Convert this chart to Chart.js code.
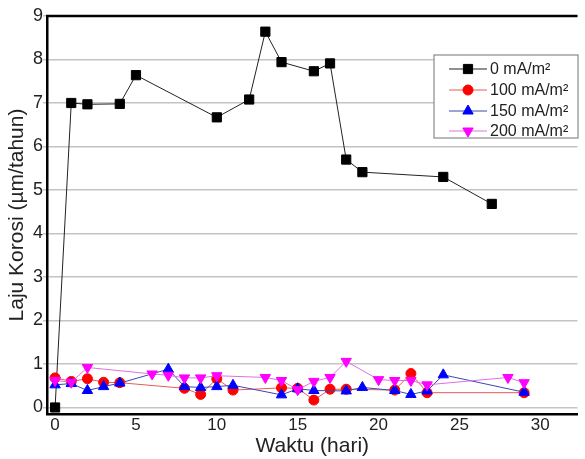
<!DOCTYPE html>
<html>
<head>
<meta charset="utf-8">
<script src="https://cdn.jsdelivr.net/npm/chart.js@4"></script>
<style>
  html, body { margin: 0; padding: 0; background: #fff; }
  #wrap { width: 585px; height: 459px; }
</style>
</head>
<body>
<div id="wrap"><canvas id="chart" width="585" height="459"></canvas></div>
<script>
// Laju korosi vs waktu, four current densities
const seriesLabels = ['0 mA/m²', '100 mA/m²', '150 mA/m²', '200 mA/m²'];

const days0 = [0, 1, 2, 4, 5, 10, 12, 13, 14, 16, 17, 18, 19, 24, 27];
const rate0 = [0, 7.0, 6.97, 6.98, 7.64, 6.67, 7.08, 8.64, 7.94, 7.73, 7.91, 5.70, 5.41, 5.30, 4.68];

const days100 = [0, 1, 2, 3, 4, 8, 9, 10, 11, 14, 15, 16, 17, 18, 21, 22, 23, 29];
const rate100 = [0.68, 0.60, 0.66, 0.58, 0.57, 0.44, 0.30, 0.66, 0.40, 0.45, 0.44, 0.17, 0.42, 0.42, 0.40, 0.78, 0.34, 0.34];

const days150 = [0, 1, 2, 3, 4, 7, 8, 9, 10, 11, 14, 15, 16, 18, 19, 21, 22, 23, 24, 29];
const rate150 = [0.52, 0.55, 0.39, 0.48, 0.56, 0.88, 0.48, 0.46, 0.48, 0.51, 0.29, 0.43, 0.39, 0.38, 0.46, 0.39, 0.30, 0.38, 0.75, 0.35];

const days200 = [0, 1, 2, 6, 7, 8, 9, 10, 13, 14, 15, 16, 17, 18, 20, 21, 22, 23, 28, 29];
const rate200 = [0.62, 0.58, 0.92, 0.77, 0.74, 0.68, 0.68, 0.73, 0.69, 0.62, 0.41, 0.60, 0.69, 1.06, 0.64, 0.62, 0.62, 0.52, 0.69, 0.57];

const xTicks = [0, 5, 10, 15, 20, 25, 30];
const yTicks = [0, 1, 2, 3, 4, 5, 6, 7, 8, 9];

const FONT = 'Liberation Sans, Arial, sans-serif';

function toPoints(xs, ys) {
  return xs.map((x, i) => ({ x: x, y: ys[i] }));
}

const styles = [
  { line: '#222', fill: '#000', point: 'rect', radius: 6.5, rotation: 0 },
  { line: '#e85a5a', fill: '#ff0000', point: 'circle', radius: 5, rotation: 0 },
  { line: '#3a48b0', fill: '#0000ff', point: 'triangle', radius: 6, rotation: 0 },
  { line: '#e070e0', fill: '#ff00ff', point: 'triangle', radius: 6, rotation: 180 }
];

const allData = [
  toPoints(days0, rate0),
  toPoints(days100, rate100),
  toPoints(days150, rate150),
  toPoints(days200, rate200)
];

const datasets = allData.map((pts, i) => ({
  label: seriesLabels[i],
  data: pts,
  borderColor: styles[i].line,
  borderWidth: 1,
  backgroundColor: styles[i].fill,
  pointStyle: styles[i].point,
  pointRadius: styles[i].radius,
  pointRotation: styles[i].rotation,
  pointBackgroundColor: styles[i].fill,
  pointBorderColor: styles[i].fill,
  pointBorderWidth: 1,
  tension: 0,
  // magenta on top, then blue, red, black
  order: 3 - i
}));

// top border of the plot frame + boxed legend with line/marker samples
const framePlugin = {
  id: 'frame',
  afterDatasetsDraw(chart) {
    const ctx = chart.ctx;
    const area = chart.chartArea;
    ctx.save();
    ctx.strokeStyle = '#000';
    ctx.lineWidth = 2.5;
    ctx.beginPath();
    ctx.moveTo(area.left - 1, area.top);
    ctx.lineTo(area.right, area.top);
    ctx.stroke();

    // legend
    const bx = 434, by = 55, bw = 144, bh = 83;
    ctx.fillStyle = '#fff';
    ctx.fillRect(bx, by, bw, bh);
    ctx.strokeStyle = '#8a8a8a';
    ctx.lineWidth = 1.2;
    ctx.strokeRect(bx, by, bw, bh);

    ctx.font = '16px ' + FONT;
    ctx.textBaseline = 'middle';
    ctx.textAlign = 'left';
    const rowY = [69, 90, 111, 131];
    seriesLabels.forEach((label, i) => {
      const y = rowY[i];
      const st = styles[i];
      ctx.strokeStyle = st.line;
      ctx.lineWidth = 1;
      ctx.beginPath();
      ctx.moveTo(449, y);
      ctx.lineTo(487, y);
      ctx.stroke();
      ctx.fillStyle = st.fill;
      ctx.strokeStyle = st.fill;
      Chart.helpers.drawPoint(ctx, {
        pointStyle: st.point,
        radius: st.radius,
        rotation: st.rotation,
        borderWidth: 1
      }, 468, y);
      ctx.fillStyle = '#222';
      ctx.fillText(label, 490, y + 1);
    });
    ctx.restore();
  }
};

new Chart(document.getElementById('chart'), {
  type: 'line',
  data: { datasets: datasets },
  plugins: [framePlugin],
  options: {
    responsive: false,
    animation: false,
    layout: { padding: { top: 16, right: 0, bottom: 0, left: 0 } },
    plugins: {
      legend: { display: false },
      tooltip: { enabled: false }
    },
    scales: {
      x: {
        type: 'linear',
        min: -0.5,
        max: 32.3,
        afterBuildTicks(scale) { scale.ticks = xTicks.map(v => ({ value: v })); },
        afterFit(scale) { scale.height = 45; },
        grid: { display: false, drawTicks: false },
        border: { color: '#000', width: 2.5 },
        ticks: {
          autoSkip: false,
          maxRotation: 0,
          padding: 1,
          color: '#222',
          font: { family: FONT, size: 17 }
        },
        title: {
          display: true,
          text: 'Waktu (hari)',
          color: '#222',
          font: { family: FONT, size: 21 },
          padding: { top: 0, bottom: 0 }
        }
      },
      y: {
        type: 'linear',
        min: -0.15,
        max: 9,
        afterBuildTicks(scale) { scale.ticks = yTicks.map(v => ({ value: v })); },
        afterFit(scale) { scale.width = 47; },
        grid: {
          color: '#c4c4c4',
          lineWidth: 1.5,
          tickLength: 4
        },
        border: { color: '#000', width: 2.5 },
        ticks: {
          autoSkip: false,
          padding: 0,
          color: '#222',
          font: { family: FONT, size: 18 }
        },
        title: {
          display: true,
          text: 'Laju Korosi (µm/tahun)',
          color: '#222',
          font: { family: FONT, size: 21 },
          padding: { top: 5, bottom: 0 }
        }
      }
    }
  }
});
</script>
</body>
</html>
